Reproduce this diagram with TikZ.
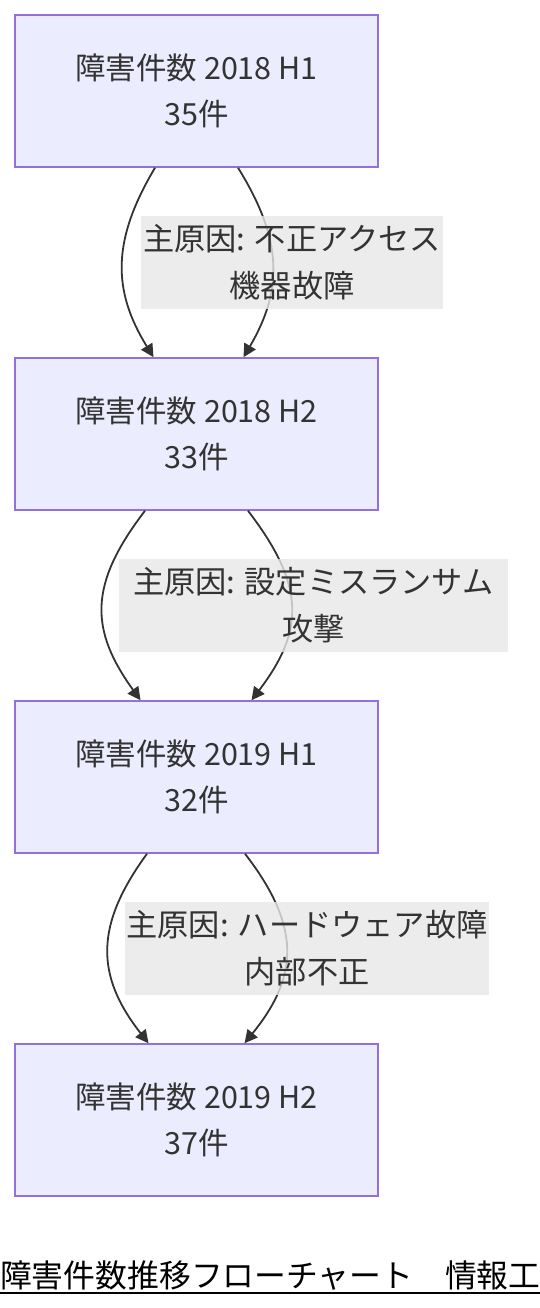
\documentclass[tikz,border=0pt]{standalone}
\usepackage{fontspec}
\newfontfamily\cjk{Noto Sans CJK JP}
\usetikzlibrary{arrows.meta,calc}
\definecolor{nodefill}{HTML}{ECECFF}
\definecolor{nodeline}{HTML}{9370DB}
\definecolor{txt}{HTML}{333333}
\definecolor{lblfill}{HTML}{E8E8E8}
\begin{document}
\begin{tikzpicture}[x=1pt,y=-1pt,
  box/.style={draw=nodeline,fill=nodefill,line width=1.5pt,minimum width=363pt,minimum height=152pt,
    inner sep=0pt,align=center,font=\cjk\fontsize{30.5}{46}\selectfont,text=txt},
  lbl/.style={fill=lblfill,fill opacity=0.8,text opacity=1,inner sep=0pt,align=center,
    font=\cjk\fontsize{31.2}{47}\selectfont,text=txt},
  edge/.style={draw=txt,line width=1.8pt,-{Triangle[length=13pt,width=13pt]}}]
\useasboundingbox (0,0) rectangle (540,1308);
\fill[white] (0,0) rectangle (540,1308);
\node[box] (n1) at (196.5,91) {障害件数 2018 H1\\35件};
\node[box] (n2) at (196.5,434) {障害件数 2018 H2\\33件};
\node[box] (n3) at (196.5,777) {障害件数 2019 H1\\32件};
\node[box] (n4) at (196.5,1120) {障害件数 2019 H2\\37件};
% edges 1
\draw[edge] ([xshift=-41.5pt]n1.south) .. controls (112,240) and (112,290) .. ([xshift=-43pt]n2.north);
\draw[edge] ([xshift=41.5pt]n1.south) .. controls (283,240) and (283,290) .. ([xshift=47pt]n2.north);
\node[lbl,minimum width=302pt,minimum height=93pt] (l1) at (292,262.5) {主原因: 不正アクセス\\機器故障};
% edges 2
\draw[edge] ([xshift=-51.5pt]n2.south) .. controls (88,585) and (90,630) .. ([xshift=-56pt]n3.north);
\draw[edge] ([xshift=51.5pt]n2.south) .. controls (305,585) and (305,630) .. ([xshift=55pt]n3.north);
\node[lbl,minimum width=389pt,minimum height=93pt] (l2) at (313.5,605.5) {主原因: 設定ミスランサム\\攻撃};
% edges 3
\draw[edge] ([xshift=-49.5pt]n3.south) .. controls (95,925) and (95,975) .. ([xshift=-48pt]n4.north);
\draw[edge] ([xshift=48.5pt]n3.south) .. controls (300,925) and (300,975) .. ([xshift=48pt]n4.north);
\node[lbl,minimum width=364pt,minimum height=93pt] (l3) at (307,948.5) {主原因: ハードウェア故障\\内部不正};
% title
\node[anchor=base west,inner sep=0pt,font=\cjk\fontsize{31.8}{31.8}\selectfont,text=black] (title) at (0,1287) {障害件数推移フローチャート　情報工};
\draw[line width=1.6pt,black] (0,1293) -- (540,1293);
\end{tikzpicture}
\end{document}
